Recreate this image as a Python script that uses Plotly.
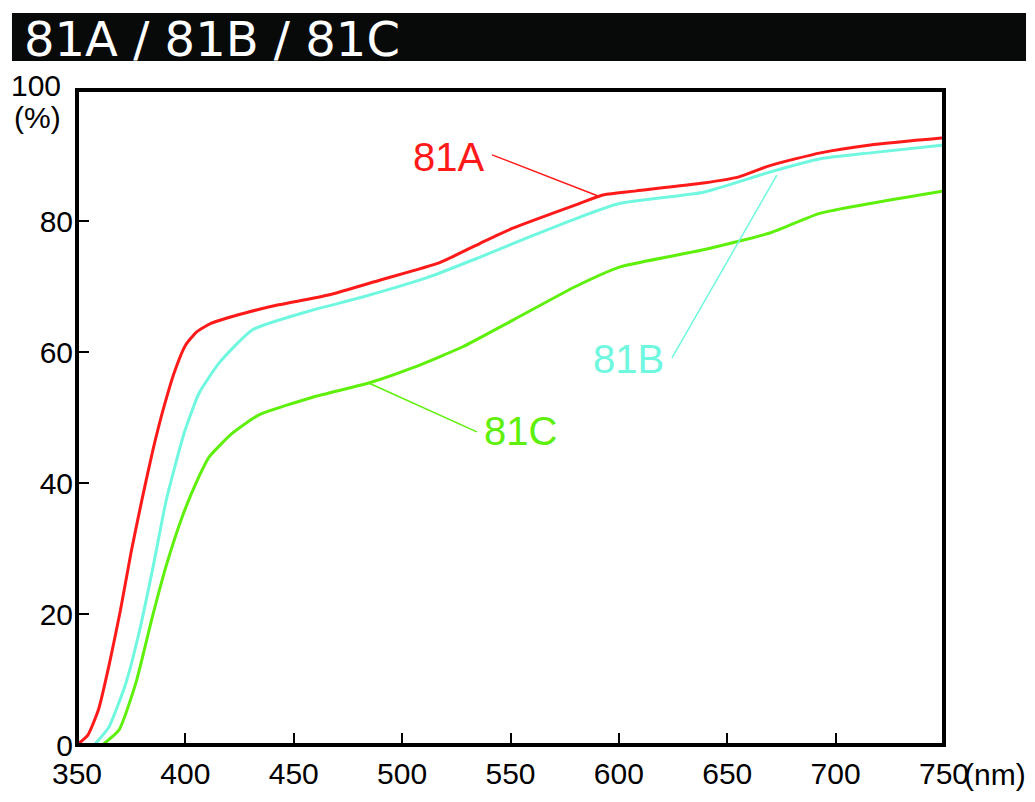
import plotly.graph_objects as go

# transmittance curves (wavelength nm, %)
wl_81a = [350, 355, 360, 365, 370, 375, 380, 385, 390, 395, 400, 405, 412, 428, 443, 466,
          490, 517, 536, 551, 582, 593, 608, 639, 655, 670, 693, 716, 750]
t_81a = [0, 1.5, 5.5, 12.5, 20.5, 29.5, 37.5, 45, 51.5, 57, 61, 63, 64.4, 66, 67.2, 68.7,
         71, 73.6, 76.6, 78.9, 82.7, 84, 84.6, 85.8, 86.7, 88.5, 90.4, 91.6, 92.7]

wl_81b = [358, 364.8, 372.5, 378.6, 385.1, 391.2, 399.4, 406.3, 415.5, 431, 458.7, 481.8,
          512.8, 536, 559, 582, 600.6, 639, 670, 693, 716, 750]
t_81b = [0, 2.8, 9.4, 17.1, 27.2, 37.4, 47.6, 53.7, 58.3, 63.4, 66.4, 68.4,
         71.5, 74.5, 77.6, 80.6, 82.7, 84.4, 87.5, 89.5, 90.4, 91.6]

wl_81c = [361.7, 369.4, 377.1, 384.8, 391, 398.6, 406.3, 411, 421.7, 434, 458.7, 485,
          505, 528, 551.3, 580, 600.6, 639, 670, 693, 750]
t_81c = [0, 2.3, 9.4, 19.6, 27.2, 34.9, 41, 44, 47.6, 50.4, 53.1, 55.3,
         57.6, 60.8, 64.9, 70, 73, 75.6, 78.2, 81.2, 84.6]

names = ["81A", "81B", "81C"]
colors = ["#ff1a1a", "#70f7df", "#5ef00a"]

# label text positions and leader lines (from label to curve)
label_x = [521.6, 604.4, 554.8]
label_y = [89.7, 58.9, 47.9]
leader_x = [[541.5, 591.3], [624.5, 672.9], [534.5, 484.3]]
leader_y = [[90.1, 83.7], [59.1, 87.0], [47.8, 55.3]]

x_ticks = [350, 400, 450, 500, 550, 600, 650, 700, 750]
y_ticks = [0, 20, 40, 60, 80, 100]
y_labels = ["0", "20", "40", "60", "80", ""]   # 100 is placed by hand above (%)

fig = go.Figure()

for wl, t, c in zip([wl_81a, wl_81b, wl_81c], [t_81a, t_81b, t_81c], colors):
    fig.add_trace(go.Scatter(x=wl, y=t, mode="lines", line=dict(color=c, width=3, shape="spline", smoothing=0.5),
                             hoverinfo="skip", showlegend=False))

for lx, ly, c in zip(leader_x, leader_y, colors):
    fig.add_trace(go.Scatter(x=lx, y=ly, mode="lines", line=dict(color=c, width=1.5),
                             hoverinfo="skip", showlegend=False))

for n, x, y, c in zip(names, label_x, label_y, colors):
    fig.add_annotation(x=x, y=y, text=n, showarrow=False,
                       font=dict(family="Liberation Sans", size=40, color=c))

# title bar
fig.add_shape(type="rect", xref="paper", yref="paper", x0=-0.075, x1=1.0946, y0=1.0443, y1=1.1176,
              fillcolor="#080a0a", line=dict(width=0), layer="above")
fig.add_annotation(xref="paper", yref="paper", x=-0.0634, y=1.0779, xanchor="left", yanchor="middle",
                   text="81A / 81B / 81C", showarrow=False,
                   font=dict(family="DejaVu Sans", size=48, color="white"))

# plot frame
fig.add_shape(type="rect", xref="paper", yref="paper", x0=0, x1=1, y0=0, y1=1,
              line=dict(color="black", width=4), layer="above")

# unit labels
fig.add_annotation(xref="paper", yref="paper", x=1.0208, y=-0.0458, xanchor="left", yanchor="middle",
                   text="(nm)", showarrow=False, font=dict(family="Liberation Sans", size=30, color="black"))
fig.add_annotation(xref="paper", yref="paper", x=-0.0161, y=1.0076, xanchor="right", yanchor="middle",
                   text="100", showarrow=False, font=dict(family="Liberation Sans", size=30, color="black"))
fig.add_annotation(xref="paper", yref="paper", x=-0.0161, y=0.958, xanchor="right", yanchor="middle",
                   text="(%)", showarrow=False, font=dict(family="Liberation Sans", size=30, color="black"))

fig.update_xaxes(range=[350, 750], tickvals=x_ticks, ticks="inside", ticklen=12, tickwidth=2,
                 tickcolor="black", showgrid=False, zeroline=False, showline=False, ticklabelstandoff=8,
                 tickfont=dict(family="Liberation Sans", size=30, color="black"))
fig.update_yaxes(range=[0, 100], tickvals=y_ticks, ticktext=y_labels, ticks="inside", ticklen=12, tickwidth=2,
                 tickcolor="black", showgrid=False, zeroline=False, showline=False, ticklabelstandoff=3,
                 tickfont=dict(family="Liberation Sans", size=30, color="black"))

# the page adds an 8px body margin, so the plot area is shifted by that amount
fig.update_layout(width=1035, height=802, margin=dict(l=69, r=99, t=82, b=65),
                  plot_bgcolor="white", paper_bgcolor="white")

fig.write_html("out.html")
